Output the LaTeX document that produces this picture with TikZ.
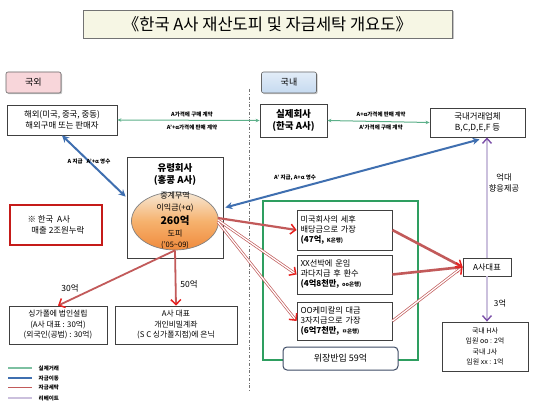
\documentclass[tikz,border=0pt]{standalone}
\usepackage{fontspec}
\setmainfont{Noto Sans CJK KR}
\usetikzlibrary{arrows.meta,shadows,calc,shapes.geometric}
\definecolor{tgreen}{HTML}{5DB08A}
\definecolor{tblue}{HTML}{3F6FB0}
\definecolor{tred}{HTML}{C25A5A}
\definecolor{tredhead}{HTML}{E8201E}
\definecolor{tlav}{HTML}{CBC0DD}
\definecolor{tpurp}{HTML}{7B4FA8}
\definecolor{boxgreen}{HTML}{2E9E60}
\definecolor{cream}{HTML}{F6F6E4}
\definecolor{pinkbtn}{HTML}{F8D6DA}
\definecolor{bluebtn}{HTML}{C6DAF0}
\definecolor{slate}{HTML}{3C4A64}
\tikzset{
  box/.style={draw=black!75, line width=0.8pt, fill=white, align=center, inner sep=1pt,
    font=\fontsize{8.2}{10}\selectfont},
  lbl/.style={font=\bfseries\fontsize{5.5}{6}\selectfont, inner sep=0.5pt},
  greenarr/.style={draw=tgreen, line width=1pt, {Stealth[length=4pt,width=3.5pt]}-{Stealth[length=4pt,width=3.5pt]}},
  bluearr/.style={draw=tblue, line width=2pt, {Stealth[length=7pt,width=7pt]}-{Stealth[length=7pt,width=7pt]}},
  redtip/.style={-{Straight Barb[length=5pt,width=10pt,line width=1.5pt,color=tredhead]}},
  redsolid/.style={draw=tred, line width=2.2pt, redtip},
  reddouble/.style={draw=tred, line width=0.7pt, double=white, double distance=1.3pt, redtip},
  lavline/.style={draw=tlav, line width=2pt},
  purptip/.style={-{Straight Barb[length=5pt,width=9pt,line width=1.4pt,color=tpurp]}},
  btn/.style={draw=black!60, line width=0.6pt, rounded corners=2pt, minimum width=55pt, minimum height=21pt,
    font=\fontsize{9}{10}\selectfont, drop shadow={shadow xshift=1.2pt, shadow yshift=-1.2pt, fill=black!45}},
  boxtext/.style={box, align=left, text width=88pt, minimum width=95pt, inner sep=3pt},
}
\begin{document}
\begin{tikzpicture}[x=1pt,y=-1pt]
\useasboundingbox (0,0) rectangle (550,412);
\fill[white] (0,0) rectangle (550,412);

% title
\node[draw=black!55, line width=0.7pt, fill=cream, minimum width=369pt, minimum height=28pt,
  drop shadow={shadow xshift=1.5pt, shadow yshift=-1.5pt, fill=black!45},
  font=\fontsize{16.5}{18}\selectfont] (title) at (267.5,24) {《한국 A사 재산도피 및 자금세탁 개요도》};

% buttons
\node[btn, fill=pinkbtn] (gukoe) at (33.5,82.5) {국외};
\node[btn, top color=bluebtn!50, bottom color=bluebtn] (guknae) at (289,82.5) {국내};

% divider
\coordinate (dtop) at (249,89);
\coordinate (dbot) at (249,392);
\draw[black!55, line width=0.6pt, dash dot] (dtop) -- (dbot);

% boxes top row
\node[box, minimum width=110pt, minimum height=30pt, font=\fontsize{8.4}{10.5}\selectfont] (over) at (62,120) {해외(미국, 중국, 중동)\\해외구매 또는 판매자};
\node[box, minimum width=67pt, minimum height=33pt, font=\bfseries\fontsize{9.5}{12}\selectfont] (real) at (293.5,120.5) {실제회사\\(한국 A사)};
\node[box, minimum width=95pt, minimum height=29pt, font=\fontsize{8.4}{10.5}\selectfont] (dom) at (477.5,122.5) {국내거래업체\\B,C,D,E,F 등};

% green arrows
\draw[greenarr] (over.east) -- (real.west);
\node[lbl] (g1a) at (192,114) {A가격에 구매 계약};
\node[lbl] (g1b) at (192,127.5) {A'+α가격에 판매 계약};
\draw[greenarr] (real.east) -- (dom.west);
\node[lbl] (g2a) at (381,114) {A+α가격에 판매 계약};
\node[lbl] (g2b) at (381,127.5) {A'가격에 구매 계약};

% ghost company
\node[box, minimum width=96pt, minimum height=101pt] (ghost) at (175,207.5) {};
\node[font=\bfseries\fontsize{9.5}{12}\selectfont, align=center, inner sep=0pt] (ghostt) at (175,174) {유령회사\\(홍콩 A사)};
\node[ellipse, draw=black!50, line width=0.7pt, minimum width=87pt, minimum height=58pt, inner sep=0pt,
  top color={rgb,255:red,246;green,232;blue,214}, bottom color={rgb,255:red,240;green,138;blue,60},
  middle color={rgb,255:red,246;green,178;blue,110}] (ell) at (175,221) {};
\node[font=\fontsize{8}{9}\selectfont, inner sep=0pt] (e1) at (175,196) {중계무역};
\node[font=\fontsize{8}{9}\selectfont, inner sep=0pt] (e2) at (175,208) {이익금(+α)};
\node[font=\bfseries\fontsize{10.5}{12}\selectfont, inner sep=0pt] (e3) at (175,221) {260억};
\node[font=\fontsize{8}{9}\selectfont, inner sep=0pt] (e4) at (175,234) {도피};
\node[font=\fontsize{7.5}{9}\selectfont, inner sep=0pt] (e5) at (175,245.5) {('05\textasciitilde 09)};

% blue arrows
\draw[bluearr] (over.south) -- ($(ghost.north west)+(-1,40)$);
\node[lbl] (b1) at (89,161) {A 지급 \enspace A'+α 영수};
\draw[bluearr] ($(dom.south)+(2,2)$) -- ($(ghost.east)+(2,0)$);
\node[lbl] (b2) at (295,178) {A' 지급, A+α 영수};

% red note box
\node[draw=tredhead!85!black, line width=1.6pt, minimum width=92pt, minimum height=40pt, align=left,
  font=\fontsize{8.4}{11}\selectfont, inner sep=2pt] (note) at (56,225) {※ 한국 \ A사\\\ \ 매출 2조원누락};

% bottom-left boxes
\node[box, minimum width=98pt, minimum height=38pt, font=\fontsize{7.8}{10.5}\selectfont] (sing) at (58,325) {싱가폴에 법인설립\\(A사 대표 : 30억)\\(외국인(공범) : 30억)};
\node[box, minimum width=122pt, minimum height=38pt, font=\fontsize{7.8}{10.5}\selectfont] (priv) at (176,325) {A사 대표\\개인비밀계좌\\(S C 싱가폴지점)에 은닉};
\draw[redsolid, line width=1.8pt] (ell.south) -- (sing.north);
\draw[redsolid, line width=1.8pt] (ell.south) -- (priv.north);
\node[font=\fontsize{8.5}{10}\selectfont, inner sep=0pt] (l30) at (70,288) {30억};
\node[font=\fontsize{8.5}{10}\selectfont, inner sep=0pt] (l50) at (189,284) {50억};

% green rectangle and inner boxes
\coordinate (gnw) at (263,201);
\coordinate (gse) at (418,360);
\draw[boxgreen, line width=1.5pt] (gnw) rectangle (gse);
\node[boxtext, minimum height=40pt] (bx1) at (344.5,230) {미국회사의 세후\\배당금으로 가장\\\textbf{(47억,} {\bfseries\fontsize{5.5}{6}\selectfont K은행)}};
\node[boxtext, minimum height=39pt] (bx2) at (344.5,274.5) {XX선박에 운임\\과다지급 후 환수\\\textbf{(4억8천만,} {\bfseries\fontsize{5.5}{6}\selectfont oo은행)}};
\node[boxtext, minimum height=38pt] (bx3) at (344.5,321) {OO케미칼의 대금\\3자지급으로 가장\\\textbf{(6억7천만,} {\bfseries\fontsize{5.5}{6}\selectfont ㅁ은행)}};
\node[draw=slate, line width=1pt, rounded corners=4pt, fill=white, minimum width=115pt, minimum height=23pt,
  font=\fontsize{9}{10}\selectfont] (disg) at (340.5,358.5) {위장반입 59억};

% red arrows ghost -> boxes
\draw[redsolid] ($(ell.east)+(-1,-3)$) -- (bx1.west);
\draw[reddouble] ($(ell.east)+(-1,-1)$) -- (bx2.west);
\draw[reddouble] ($(ell.east)+(-1,1)$) -- (bx3.west);

% A사대표
\node[box, minimum width=48pt, minimum height=18pt, font=\fontsize{8.2}{10}\selectfont] (ceo) at (487,267) {A사대표};
\draw[redsolid, line width=2.6pt] (bx1.east) -- (ceo.west);
\draw[redsolid, line width=2.6pt] (bx2.east) -- (ceo.west);
\draw[reddouble] (bx3.east) -- (ceo.west);

% H사 box
\node[box, minimum width=86pt, minimum height=49pt, font=\fontsize{7}{10.3}\selectfont] (hsa) at (485,346.5) {국내 H사\\임원 oo : 2억\\국내 J사\\임원 xx : 1억};

% rebate lines
\draw[lavline, purptip] (ceo.north) -- (ceo.north |- dom.south);
\draw[lavline, purptip] (ceo.south) -- (ceo.south |- hsa.north);
\node[font=\fontsize{8.2}{10.5}\selectfont, align=center, inner sep=0pt] (rb) at (504,183) {억대\\향응제공};
\node[font=\fontsize{8.2}{10}\selectfont, inner sep=0pt] (l3) at (500,303) {3억};

% legend
\coordinate (lg1a) at (8,368); \coordinate (lg1b) at (32,368);
\coordinate (lg2a) at (8,378); \coordinate (lg2b) at (32,378);
\coordinate (lg3a) at (8,387.5); \coordinate (lg3b) at (32,387.5);
\coordinate (lg4a) at (8,398); \coordinate (lg4b) at (32,398);
\draw[tgreen!80, line width=1.8pt] (lg1a) -- (lg1b);
\draw[tblue, line width=1.8pt] (lg2a) -- (lg2b);
\draw[tred, line width=1.8pt] (lg3a) -- (lg3b);
\draw[tlav, line width=1.8pt] (lg4a) -- (lg4b);
\node[lbl, anchor=west] (lt1) at (38,368) {실제거래};
\node[lbl, anchor=west] (lt2) at (38,378) {자금이동};
\node[lbl, anchor=west] (lt3) at (38,387.5) {자금세탁};
\node[lbl, anchor=west] (lt4) at (38,398) {리베이트};
\end{tikzpicture}
\end{document}
